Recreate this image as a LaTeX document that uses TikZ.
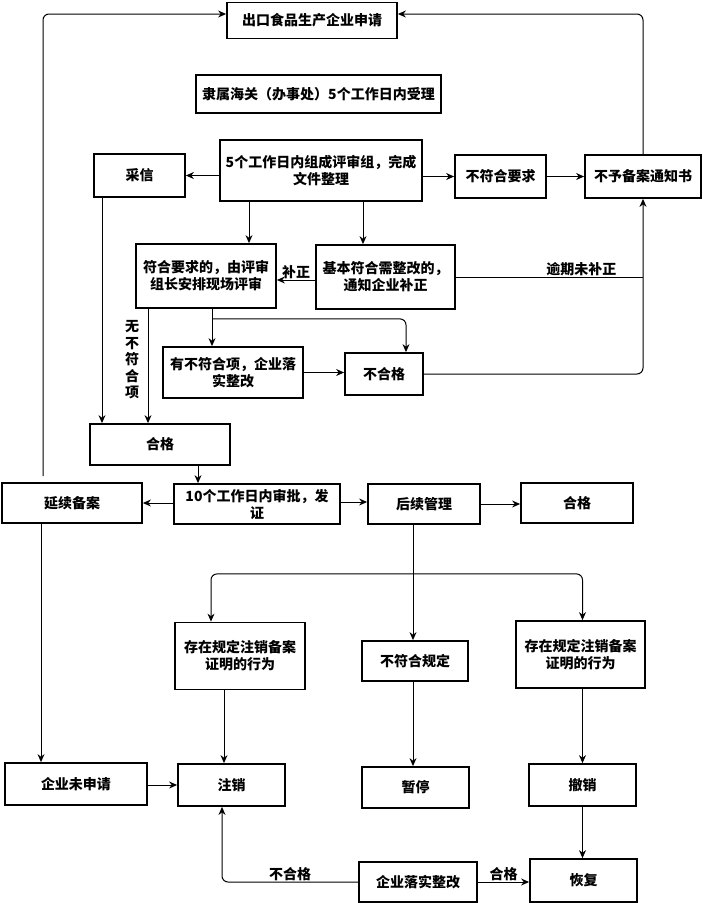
\documentclass[tikz,border=0pt]{standalone}
\usepackage{fontspec}
\setmainfont{Noto Sans CJK SC}
\usetikzlibrary{arrows.meta,calc,positioning}
\tikzset{
  wire/.style={black,line width=1pt},
  flow/.style={-{Stealth[length=8pt,width=7pt]},line width=1pt},
  box/.style={draw=black,line width=1.8pt,fill=white,align=center,inner sep=2pt,
              font=\fontsize{14}{17}\selectfont\bfseries},
  lab/.style={font=\fontsize{14}{16.5}\selectfont\bfseries,inner sep=1pt},
}

\begin{document}
\begin{tikzpicture}[x=1pt,y=-1pt]
  \useasboundingbox[fill=white] (0,0) rectangle (703,903);

  % top part
  \node[box,minimum width=170,minimum height=36] (apply) at (312,20.5) {出口食品生产企业申请};
  \node[box,minimum width=245,minimum height=38] (accept) at (318.5,94) {隶属海关（办事处）5个工作日内受理};
  \node[box,minimum width=202,minimum height=61] (group) at (321,170.5)
    {5个工作日内组成评审组，完成\\文件整理};
  \node[box,minimum width=91,minimum height=43] (adopt) at (139.5,175.5) {采信};
  \node[box,minimum width=91,minimum height=43] (fail1) at (500.5,176.5) {不符合要求};
  \node[box,minimum width=116,minimum height=43] (notice) at (643,176.5) {不予备案通知书};

  % review
  \node[box,minimum width=140,minimum height=64] (onsite) at (206,276)
    {符合要求的，由评审\\组长安排现场评审};
  \node[box,minimum width=139,minimum height=64] (rectify) at (385.5,277)
    {基本符合需整改的，\\通知企业补正};
  \node[box,minimum width=140,minimum height=51] (nonconf) at (233,372.5)
    {有不符合项，企业落\\实整改};
  \node[box,minimum width=78,minimum height=42] (fail2) at (384,374) {不合格};
  \node[box,minimum width=140,minimum height=41] (pass1) at (160,444.5) {合格};

  % approval row
  \node[box,minimum width=140,minimum height=40] (renew) at (72,503) {延续备案};
  \node[box,minimum width=166,minimum height=40] (approve) at (257,504)
    {10个工作日内审批，发\\证};
  \node[box,minimum width=112,minimum height=40] (follow) at (424,504) {后续管理};
  \node[box,minimum width=112,minimum height=40] (pass2) at (577,503) {合格};

  % supervision
  \node[box,minimum width=130,minimum height=67] (cancelL) at (240,656)
    {存在规定注销备案\\证明的行为};
  \node[box,minimum width=106,minimum height=40] (violate) at (415,661) {不符合规定};
  \node[box,minimum width=129,minimum height=67] (cancelR) at (580.5,654.5)
    {存在规定注销备案\\证明的行为};

  \node[box,minimum width=142,minimum height=42] (noapply) at (76,784) {企业未申请};
  \node[box,minimum width=107,minimum height=42] (cancel) at (231.5,785) {注销};
  \node[box,minimum width=107,minimum height=41] (suspend) at (415.5,787.5) {暂停};
  \node[box,minimum width=107,minimum height=42] (revoke) at (582.5,785) {撤销};
  \node[box,minimum width=118,minimum height=40] (fix) at (418,882) {企业落实整改};
  \node[box,minimum width=107,minimum height=43] (restore) at (583.5,880.5) {恢复};

  % connectors
  \draw[flow,rounded corners=6pt] ([xshift=-29pt,yshift=6pt]renew.north) |- ([yshift=6.5pt]apply.west);
  \draw[flow,rounded corners=6pt] (notice.north) |- ([yshift=6.5pt]apply.east);
  \draw[flow] (group.west |- adopt) -- (adopt.east);
  \draw[flow] (group.east |- fail1) -- (fail1.west);
  \draw[flow] (fail1) -- (notice);
  \draw[flow] ([xshift=-72pt]group.south) -- ([xshift=-72pt]group.south |- onsite.north);
  \draw[flow] ([xshift=42pt]group.south) -- ([xshift=42pt]group.south |- rectify.north);
  \draw[flow] ([yshift=-3pt]rectify.west) -- ([yshift=-3pt]rectify.west -| onsite.east)
    node[lab,above,midway] {补正};
  \draw[wire] (rectify.east) -- (rectify.east -| notice.south)
    node[lab,above,pos=0.67] {逾期未补正};
  \draw[flow,rounded corners=6pt] (fail2.east) -| (notice.south);
  \draw[flow] ([xshift=6pt]onsite.south) -- ([xshift=6pt]onsite.south |- nonconf.north);
  \draw[flow,rounded corners=6pt] ([xshift=6pt,yshift=-10pt]onsite.south) -| ([xshift=22pt]fail2.north);
  \draw[flow] (nonconf.east) -- (nonconf.east -| fail2.west);
  \draw[flow] ([xshift=-58pt]onsite.south) -- ([xshift=-58pt]onsite.south |- pass1.north);
  \node[lab,align=center,font=\fontsize{14}{16.5}\selectfont\bfseries] (nolab) at (132,360)
    {无\\不\\符\\合\\项};
  \draw[flow] ([xshift=-37.5pt]adopt.south) -- ([xshift=-37.5pt]adopt.south |- pass1.north);
  \draw[flow] ([xshift=38pt]pass1.south) -- ([xshift=38pt]pass1.south |- approve.north);
  \draw[flow] (approve.west |- renew) -- (renew.east);
  \draw[flow] ([yshift=2pt]approve.east) -- ([yshift=2pt]approve.east -| follow.west);
  \draw[flow] (follow.east) -- (follow.east -| pass2.west);

  \coordinate (split) at ([xshift=-11pt,yshift=-49pt]follow.south);
  \draw[wire] ([xshift=-11pt]follow.south) -- (split);
  \draw[flow] (split) -- (split |- violate.north);
  \draw[flow,rounded corners=6pt] (split) -| ([xshift=-29pt]cancelL.north);
  \draw[flow,rounded corners=6pt] (split) -| ([xshift=2pt]cancelR.north);

  \draw[flow] ([xshift=-16pt]cancelL.south) -- ([xshift=-16pt]cancelL.south |- cancel.north);
  \draw[flow] (split |- violate.south) -- (split |- suspend.north);
  \draw[flow] (revoke.north |- cancelR.south) -- (revoke.north);
  \draw[flow] ([xshift=-31pt]renew.south) -- ([xshift=-31pt]renew.south |- noapply.north);
  \draw[flow] (noapply.east |- cancel) -- (cancel.west);
  \draw[flow] (revoke.south) -- (revoke.south |- restore.north);
  \draw[flow,rounded corners=6pt] (fix.west) -| ([xshift=-9.5pt]cancel.south)
    node[lab,above,pos=0.25] {不合格};
  \draw[flow] (fix.east) -- (fix.east -| restore.west)
    node[lab,above,midway] {合格};
\end{tikzpicture}
\end{document}
